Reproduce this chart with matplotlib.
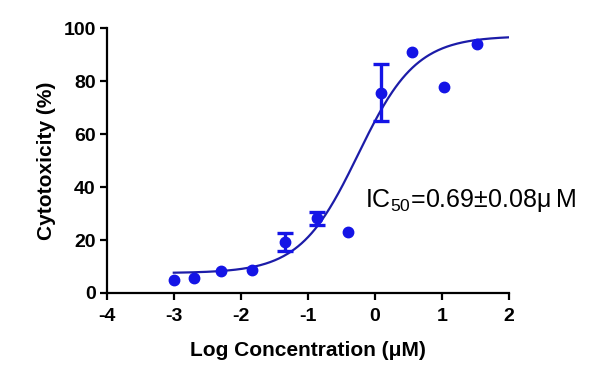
import numpy as np
import matplotlib
matplotlib.use("Agg")
import matplotlib.pyplot as plt

plt.rcParams['font.family'] = ['Liberation Sans', 'DejaVu Sans']
plt.rcParams['mathtext.fontset'] = 'custom'
plt.rcParams['mathtext.rm'] = 'Liberation Sans'
plt.rcParams['mathtext.it'] = 'Liberation Sans:italic'
plt.rcParams['mathtext.bf'] = 'Liberation Sans:bold'
plt.rcParams['axes.unicode_minus'] = False

# Measured points (log uM vs % cytotoxicity)
log_conc = [-3.0, -2.70, -2.30, -1.83, -1.34, -0.87, -0.40, 0.09, 0.56, 1.04, 1.52]
cytotox = [5.0, 5.8, 8.4, 8.6, 19.4, 28.2, 23.0, 75.6, 90.9, 77.9, 94.0]
err = [0, 0, 0, 0, 3.4, 2.5, 0, 10.8, 0, 0, 0]

# 4PL fit parameters
bottom, top, log_ic50, hill = 7.5, 97.0, -0.25, 1.0
fit_range = (-3.0, 2.0)

xfit = np.linspace(fit_range[0], fit_range[1], 300)
yfit = bottom + (top - bottom) / (1 + 10 ** ((log_ic50 - xfit) * hill))

fig = plt.figure(figsize=(6, 3.74), dpi=100)
ax = fig.add_axes([0.178, 0.2166, 0.67, 0.7084])

ax.plot(xfit, yfit, color='#1c1ca8', lw=1.6, zorder=2)
ax.plot(log_conc, cytotox, 'o', color='#1414e6', ms=7.5, zorder=3)
# error bars only where SD exists
xe = [x for x, e in zip(log_conc, err) if e > 0]
ye = [y for y, e in zip(cytotox, err) if e > 0]
ee = [e for e in err if e > 0]
ax.errorbar(xe, ye, yerr=ee, fmt='none', ecolor='#1414e6',
            elinewidth=2.4, capsize=5.5, capthick=2.4, zorder=3)

ax.text(-0.15, 32.6, 'IC$_{50}$=0.69±0.08μ\u2009M', fontsize=18, ha='left', va='baseline')

ax.set_xlim(-4, 2)
ax.set_ylim(0, 100)
ax.set_xticks([-4, -3, -2, -1, 0, 1, 2])
ax.set_yticks([0, 20, 40, 60, 80, 100])
for s in ['top', 'right']:
    ax.spines[s].set_visible(False)
for s in ['left', 'bottom']:
    ax.spines[s].set_linewidth(1.6)
ax.tick_params(width=1.6, length=5, labelsize=14, direction='out')
ax.tick_params(axis='x', pad=6)
ax.tick_params(axis='y', pad=3)
for lab in ax.get_xticklabels() + ax.get_yticklabels():
    lab.set_fontweight('bold')

ax.set_xlabel('Log Concentration (μM)', fontsize=15, fontweight='bold', labelpad=11)
ax.set_ylabel('Cytotoxicity (%)', fontsize=15, fontweight='bold', labelpad=5)

fig.savefig('out.png', dpi=100)
